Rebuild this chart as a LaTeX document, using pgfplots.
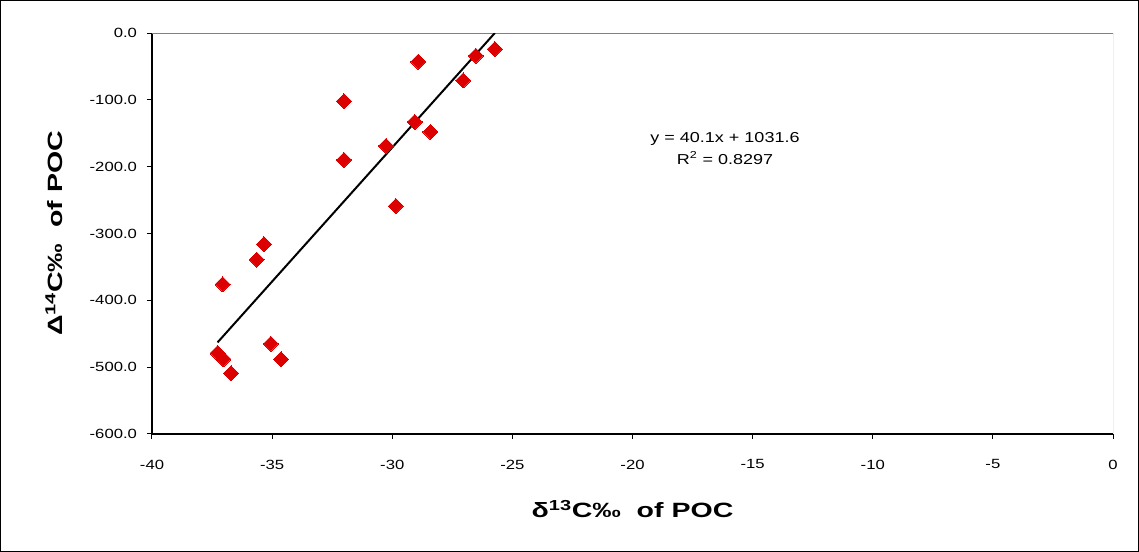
\documentclass[border=0pt]{standalone}
\usepackage{fontspec}
\setmainfont{Liberation Sans}[FakeStretch=1.25]
\newfontfamily\labfont{Liberation Sans}[FakeStretch=1.38]
\usepackage{pgfplots}
\pgfplotsset{compat=1.18}
\definecolor{ptred}{RGB}{221,0,0}
\definecolor{boxgray}{RGB}{128,128,128}

% d13C (x) and D14C (y) of POC
\pgfplotstableread{
x y
-25.73 -24
-26.52 -34
-28.92 -43
-27.05 -71
-32.01 -102
-29.06 -133
-28.41 -148
-30.26 -169
-32.01 -190
-29.85 -259
-35.34 -316
-35.64 -339
-37.06 -376
-35.05 -465
-34.63 -488
-37.27 -479
-37.03 -488
-36.71 -509
}\poc

\begin{document}
\begin{tikzpicture}
\draw[black, line width=0.75pt] (0.375pt,0.375pt) rectangle (853.875pt,413.625pt);
\begin{axis}[
  at={(114pt,88.5pt)}, anchor=south west,
  width=720.75pt, height=300.75pt, scale only axis,
  xmin=-40, xmax=0, ymin=-600, ymax=0,
  xtick={-40,-35,...,0}, ytick={-600,-500,...,0},
  axis x line*=bottom, axis y line*=left,
  x axis line style={-, line width=1pt},
  y axis line style={-, line width=1pt},
  tick align=outside, major tick length=3.75pt,
  tick style={black, line width=0.75pt},
  /pgf/number format/assume math mode=true,
  tick label style={font=\fontsize{10}{12}\selectfont},
  y tick label style={/pgf/number format/fixed,
    /pgf/number format/fixed zerofill,
    /pgf/number format/precision=1, xshift=-4pt},
  x tick label style={yshift=-12pt},
  xlabel={δ\textsuperscript{13}C‰~~of POC},
  ylabel={Δ\textsuperscript{14}C‰~~of POC},
  label style={font=\labfont\bfseries\fontsize{15.5}{18}\selectfont},
  xlabel style={at={(axis description cs:0.5,-0.187)}, anchor=center},
  ylabel style={at={(axis description cs:-0.102,0.5)}, anchor=center},
]
\draw[boxgray, line width=0.75pt] (rel axis cs:0,1) -- (rel axis cs:1,1) -- (rel axis cs:1,0);
\addplot[black, line width=1.5pt, no marks] coordinates {(-37.27,-462.9) (-25.73,0)};
\addplot[only marks, mark=square*, mark size=4pt,
  mark options={rotate=45, fill=ptred, draw=ptred, line width=0pt}] table[x=x, y=y] {\poc};
\node[align=center, font=\fontsize{10.8}{16}\selectfont] at (axis cs:-16.15,-173)
  {y = 40.1x + 1031.6\\R\textsuperscript{2} = 0.8297};
\end{axis}
\end{tikzpicture}
\end{document}
